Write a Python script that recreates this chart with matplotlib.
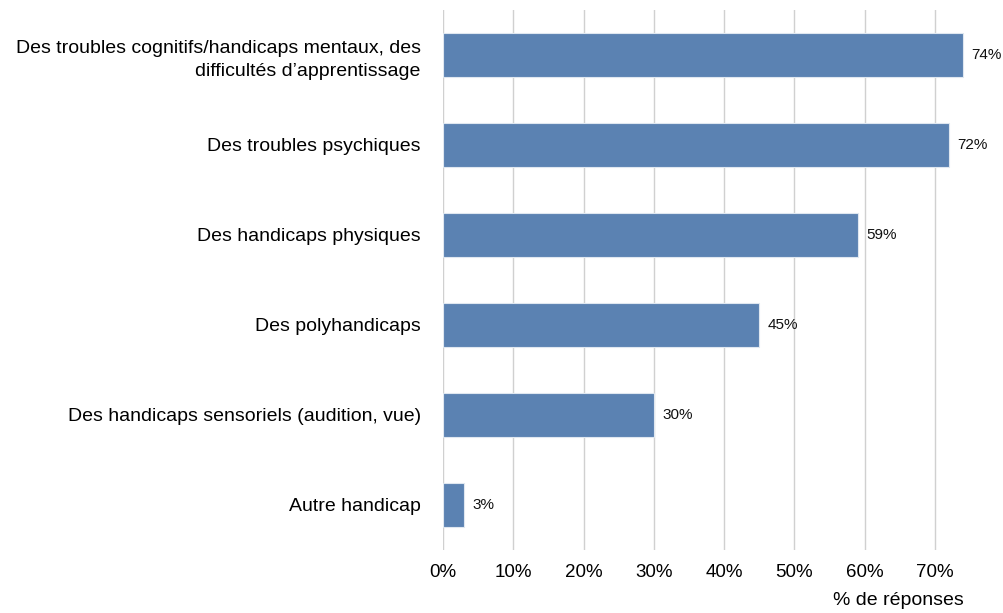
import matplotlib.pyplot as plt

plt.rcParams['font.family'] = ['Liberation Sans', 'DejaVu Sans']

categories = [
    "Des troubles cognitifs/handicaps mentaux, des\ndifficultés d\u2019apprentissage",
    "Des troubles psychiques",
    "Des handicaps physiques",
    "Des polyhandicaps",
    "Des handicaps sensoriels (audition, vue)",
    "Autre handicap",
]
values = [74, 72, 59, 45, 30, 3]
ticks = [0, 10, 20, 30, 40, 50, 60, 70]
tick_labels = [f"{t}%" for t in ticks]

fig = plt.figure(figsize=(10.04, 6.13), dpi=100)
ax = fig.add_axes([0.4412, 0.1028, 0.5588, 0.881])

pos = list(range(len(categories)))[::-1]
ax.barh(pos, values, height=0.49, color="#5b82b2", edgecolor="#dfe7f0", linewidth=0.8, zorder=3)

for p, v in zip(pos, values):
    ax.annotate(f"{v}%", (v, p), xytext=(6, 0), textcoords="offset points",
                va="center", ha="left", fontsize=11, color="#111111")

ax.set_xlim(0, 79.8)
ax.set_ylim(-0.5, len(categories) - 0.5)
ax.set_xticks(ticks)
ax.set_xticklabels(tick_labels, fontsize=13.5)
ax.set_yticks(pos)
ax.set_yticklabels(categories, fontsize=14, linespacing=1.45)
ax.tick_params(axis="both", length=0)
ax.tick_params(axis="y", pad=16)
ax.tick_params(axis="x", pad=10)
ax.grid(axis="x", color="#d0d0d0", linewidth=1, zorder=0)
for s in ax.spines.values():
    s.set_visible(False)

fig.text(0.895, 0.02, "% de réponses", ha="center", va="center", fontsize=14)

fig.savefig("out.png", dpi=100)
